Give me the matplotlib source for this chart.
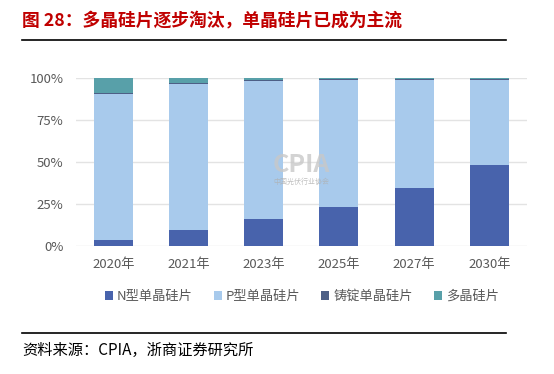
import numpy as np
import matplotlib.pyplot as plt

plt.rcParams['font.family'] = ['Noto Sans CJK SC', 'DejaVu Sans']

# data (share of wafer market, %)
years = ['2020年', '2021年', '2023年', '2025年', '2027年', '2030年']
n_mono = [3.5, 9.3, 15.9, 22.9, 34.3, 48.0]
p_mono = [86.6, 87.1, 82.0, 75.6, 64.5, 50.9]
cast_mono = [0.6, 0.5, 0.6, 0.6, 0.6, 0.6]
multi = [9.3, 3.1, 1.5, 0.9, 0.6, 0.5]
labels = ['N型单晶硅片', 'P型单晶硅片', '铸锭单晶硅片', '多晶硅片']
colors = ['#4863AC', '#A8CAEC', '#4D5F86', '#58A0A9']

fig = plt.figure(figsize=(5.54, 3.74), dpi=100)
ax = fig.add_axes([0.137, 0.343, 0.814, 0.449])

x = np.arange(len(years))
bottom = np.zeros(len(years))
for vals, lab, col in zip([n_mono, p_mono, cast_mono, multi], labels, colors):
    v = np.array(vals) / 100
    ax.bar(x, v, 0.52, bottom=bottom, color=col, label=lab,
           edgecolor='none', zorder=3)
    bottom += v

ax.set_xlim(-0.5, len(years) - 0.5)
ax.set_ylim(0, 1)
ax.set_yticks([0, 0.25, 0.5, 0.75, 1.0])
ax.set_yticklabels(['0%', '25%', '50%', '75%', '100%'])
ax.set_xticks(x)
ax.set_xticklabels(years)
ax.grid(axis='y', color='#E3E3E3', linewidth=1, zorder=0)
for s in ax.spines.values():
    s.set_visible(False)
ax.tick_params(length=0, colors='#595959', labelsize=9.5)
ax.tick_params(axis='x', pad=9)
ax.tick_params(axis='y', pad=9)

# watermark
ax.text(2.5, 0.48, 'CPIA', ha='center', va='center', fontsize=18,
        fontweight='bold', color='#C8C8C8', alpha=0.8, zorder=4)
ax.text(2.5, 0.38, '中国光伏行业协会', ha='center', va='center', fontsize=5,
        color='#B0B0B0', alpha=0.8, zorder=4)

leg = fig.legend(loc='center', bbox_to_anchor=(0.545, 0.207), ncol=4,
                 frameon=False, fontsize=9.5, handlelength=0.6,
                 handleheight=0.6, handletextpad=0.3, columnspacing=1.6)
for t in leg.get_texts():
    t.set_color('#595959')

# title and source
fig.text(0.040, 0.945, '图 28：多晶硅片逐步淘汰，单晶硅片已成为主流',
         fontsize=12.8, fontweight='bold', color='#C00000', va='center')
fig.add_artist(plt.Line2D([0.040, 0.914], [0.893, 0.893], color='black', lw=1.2))
fig.add_artist(plt.Line2D([0.040, 0.914], [0.110, 0.110], color='black', lw=1.2))
fig.text(0.040, 0.062, '资料来源：CPIA，浙商证券研究所', fontsize=11,
         color='black', va='center')

fig.savefig('out.png', dpi=100)
